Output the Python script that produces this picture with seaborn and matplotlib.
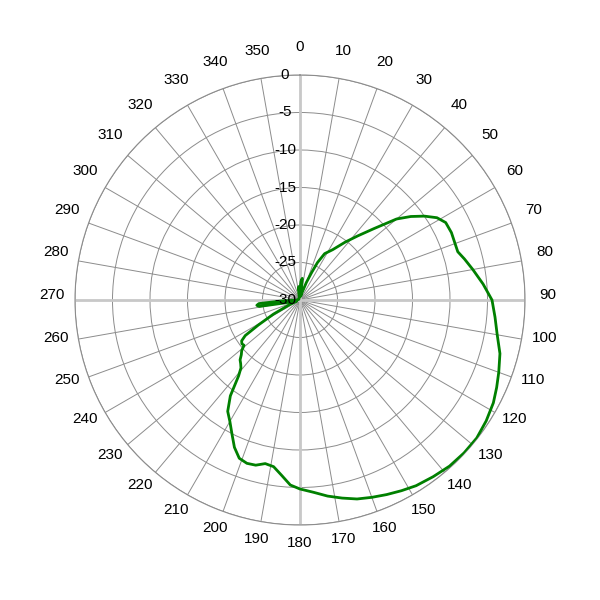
import matplotlib
matplotlib.use("Agg")
import matplotlib.pyplot as plt
from matplotlib.transforms import offset_copy
import numpy as np
import pandas as pd
import seaborn as sns

# antenna pattern, angle (deg, clockwise from top) vs gain (dB)
angles = [0, 3, 6, 8, 10, 15, 20, 23, 25, 28, 33, 38, 42, 46, 50, 53, 56, 59,
          62, 66, 70, 73, 76, 80, 85, 90, 95, 100, 105, 110, 114, 118, 123,
          128, 133, 138, 143, 148, 152, 156, 160, 164, 168, 172, 176, 180,
          183, 186, 189, 192, 195, 198, 201, 204, 207, 210, 213, 216, 219,
          221, 223, 225, 227, 229, 231, 233, 235, 237, 239, 242, 246, 250,
          256, 259, 261, 263, 265, 267, 269, 275, 290, 320, 345, 352, 355,
          358, 360]
gain = [-28.5, -27.5, -27.1, -29.0, -29.5, -29.0, -27.5, -26.0, -24.5, -23.0,
        -22.0, -20.2, -18.5, -16.3, -13.2, -11.5, -10.0, -8.7, -8.0, -7.9,
        -8.0, -8.0, -7.4, -6.6, -5.5, -4.4, -3.9, -3.3, -2.4, -1.8, -1.3,
        -0.8, -0.4, -0.1, -0.1, -0.2, -0.5, -0.8, -1.2, -1.6, -2.0, -2.4,
        -3.0, -3.6, -4.3, -4.8, -5.3, -6.5, -7.5, -7.7, -7.2, -7.1, -7.4,
        -8.5, -10.0, -11.3, -12.3, -14.2, -17.0, -18.0, -18.4, -18.7, -19.3,
        -19.7, -20.4, -20.3, -20.5, -21.3, -23.5, -26.0, -28.5, -29.5, -29.5,
        -28.0, -24.5, -24.2, -24.5, -27.5, -29.5, -29.7, -29.8, -29.8, -29.6,
        -28.5, -28.2, -29.3, -28.5]

r_ticks = [-30, -25, -20, -15, -10, -5, 0]
theta_ticks = list(range(0, 360, 10))

sns.set_style("white")
plt.rcParams['font.family'] = ['Liberation Sans', 'DejaVu Sans']

df = pd.DataFrame({"theta": np.deg2rad(angles), "gain": gain})

fig = plt.figure(figsize=(6, 6), dpi=100)
ax = fig.add_axes([0.125, 0.125, 0.75, 0.75], projection="polar")
ax.set_theta_zero_location("N")
ax.set_theta_direction(-1)
ax.set_ylim(-30, 0)

ax.set_thetagrids(theta_ticks, [""] * len(theta_ticks))
ax.set_rgrids(r_ticks, [""] * len(r_ticks))
ax.grid(True, color="#8c8c8c", lw=0.7)
ax.spines["polar"].set_color("#8c8c8c")
ax.spines["polar"].set_linewidth(0.8)

for a in [0, 90, 180, 270]:
    ax.axvline(np.deg2rad(a), color="#c8c8c8", lw=2, zorder=1)

# angle labels just outside the outer ring
lab_r = 3.1
up = offset_copy(ax.transData, fig=fig, x=0, y=5, units="dots")
for t in theta_ticks:
    ax.text(np.deg2rad(t), lab_r, str(t), ha="center", va="center",
            fontsize=11, color="black", transform=up, clip_on=False)

# gain labels along the 0 degree spoke
left = offset_copy(ax.transData, fig=fig, x=-15, y=0, units="dots")
for r in r_ticks:
    ax.text(0, r, str(r), ha="center", va="center", fontsize=11,
            color="black", transform=left, zorder=5)

sns.lineplot(data=df, x="theta", y="gain", sort=False, ax=ax,
             color="#008000", lw=2, zorder=4)
ax.set_xlabel("")
ax.set_ylabel("")

fig.savefig("out.png", dpi=100)
